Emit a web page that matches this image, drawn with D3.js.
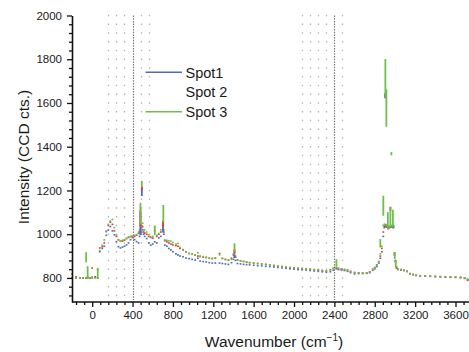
<!DOCTYPE html>
<html>
<head>
<meta charset="utf-8">
<script src="https://cdn.jsdelivr.net/npm/d3@7"></script>
<style>
  body { margin: 0; background: #fff; }
  svg { display: block; }
  text { font-family: "Liberation Sans", Arial, sans-serif; fill: #1a1a1a; }
</style>
</head>
<body>
<svg id="chart" width="469" height="352"></svg>
<script>
// Raman spectra of three spots (wavenumber in cm^-1, intensity in CCD counts)
const wavenumber = [
  -200,-160,-120,-90,-60,-45,-20,0,30,55,75,100,120,140,160,180,200,220,240,260,
  280,300,320,340,360,380,400,420,440,460,470,480,490,500,510,520,540,560,580,600,
  620,640,660,680,700,710,720,740,760,780,800,830,850,870,900,930,960,990,1020,1047,
  1070,1100,1130,1160,1190,1220,1262,1290,1320,1350,1380,1400,1410,1420,1440,1470,1500,1530,1560,1600,
  1640,1680,1720,1760,1800,1840,1880,1920,1960,2000,2040,2080,2120,2160,2200,2240,2280,2320,2360,2390,
  2420,2440,2470,2500,2530,2560,2600,2640,2680,2720,2750,2780,2800,2820,2840,2855,2870,2885,2895,2905,
  2915,2920,2925,2935,2945,2955,2965,2975,2985,2995,3005,3015,3030,3060,3090,3120,3150,3180,3210,3250,
  3300,3350,3400,3450,3500,3550,3600,3650,3690,3720,3750
];
const spot1 = [
  800,800,800,800,800,800,800,800,802,800,920,935,945,995,1019,1035,1015,997,966,943,
  937,941,945,951,960,975,990,975,966,960,990,1000,1010,1020,1000,990,980,960,950,955,
  965,960,983,990,1020,1000,950,945,935,928,920,910,905,900,897,891,888,885,882,890,
  877,875,873,870,868,868,868,866,864,862,870,885,895,880,866,864,862,861,860,858,
  856,855,853,852,850,848,846,844,842,840,838,837,836,834,832,830,828,826,828,835,
  842,838,836,834,830,824,818,820,820,821,824,835,842,852,868,890,920,990,1030,1035,
  1035,1033,1033,1030,1030,1032,1034,1033,1032,905,880,850,838,836,834,830,818,815,812,809,
  808,807,806,805,804,803,803,802,800,792,785
];
const spot2 = [
  818,805,800,800,800,805,800,845,805,840,937,943,960,1012,1040,1055,1045,1015,990,975,
  970,968,972,980,985,989,985,990,995,1004,1010,1020,1030,1035,1010,1005,1000,990,985,982,
  1015,990,1000,1010,1040,1010,970,965,960,955,951,948,945,935,928,920,912,910,905,900,
  898,895,893,890,888,890,912,890,885,882,890,905,915,895,882,878,875,872,870,868,
  866,864,862,860,856,853,852,849,847,846,844,843,842,840,838,836,834,832,838,844,
  845,842,840,838,836,830,825,823,822,823,828,840,848,860,875,900,935,1010,1035,1040,
  1040,1038,1036,1030,1032,1036,1038,1036,1035,914,875,845,840,838,835,830,820,816,812,810,
  809,808,807,806,805,804,803,802,798,790,783
];
const spot3 = [
  800,800,800,800,800,800,800,805,800,800,925,950,974,1015,1045,1060,1068,1030,995,974,
  970,972,975,981,987,990,990,995,998,1010,1020,1030,1040,1050,1020,1019,1010,997,988,990,
  1035,995,1003,1020,1050,1020,974,972,970,968,962,955,958,940,930,918,912,910,905,915,
  900,898,895,890,890,892,905,888,884,880,885,910,925,900,882,878,876,874,870,868,
  866,864,862,860,858,856,852,850,848,846,845,843,842,840,838,836,834,832,836,843,
  848,845,841,839,836,829,824,822,822,823,826,838,846,858,872,910,945,1040,1045,1045,
  1042,1040,1038,1035,1035,1038,1040,1040,1038,914,875,852,840,838,835,830,818,815,812,810,
  809,808,807,806,805,804,803,802,800,795,788
];

// narrow bands: [wavenumber, low, high] of the sharp lines in each spectrum
const spot1Bands = [
  [478, 1000, 1100], [492, 1178, 1212], [702, 1012, 1045], [1410, 895, 905],
  [2903, 1625, 1640], [2983, 1030, 1040]
];
const spot2Bands = [
  [478, 1040, 1110], [492, 1205, 1216], [703, 1035, 1060], [1410, 915, 928],
  [2905, 1630, 1642], [2930, 1025, 1032], [2955, 1110, 1122]
];
const spot3Bands = [
  [-60, 875, 914], [-45, 800, 850], [55, 800, 840], [478, 1050, 1140], [492, 1218, 1240],
  [620, 1000, 1035], [705, 1057, 1130], [1410, 925, 955], [2420, 855, 882],
  [2855, 943, 974], [2885, 1088, 1172], [2905, 1629, 1797], [2915, 1495, 1659],
  [2930, 1028, 1097], [2955, 1035, 1120], [2965, 1364, 1372], [2980, 1035, 1108],
  [2998, 891, 914], [3008, 852, 875]
];

const seriesNames = ["Spot1", "Spot 2", "Spot 3"];
const seriesValues = [spot1, spot2, spot3];
const seriesBands = [spot1Bands, spot2Bands, spot3Bands];
const seriesColors = ["#4a6cc4", "#e53935", "#6cc04a"];
const legendShowsLine = [true, false, true];

const xTickValues = [0, 400, 800, 1200, 1600, 2000, 2400, 2800, 3200, 3600];
const yTickValues = [800, 1000, 1200, 1400, 1600, 1800, 2000];
const guideLines = [160, 240, 320, 480, 560, 2080, 2160, 2240, 2320, 2480];
const markedLines = [400, 2400];

const svg = d3.select("#chart");

const x = d3.scaleLinear().domain([-200, 3600]).range([72, 455.5]);
const y = d3.scaleLinear().domain([690, 2000]).range([302, 15.5]);

const plotTop = y(2000), plotBottom = y(690);

// vertical guide lines
svg.append("g").selectAll("line").data(guideLines).join("line")
  .attr("x1", d => Math.round(x(d)) + 0.5).attr("x2", d => Math.round(x(d)) + 0.5)
  .attr("y1", plotTop - 0.75).attr("y2", plotBottom - 4)
  .attr("stroke", "#b4b4b4").attr("stroke-width", 1.3)
  .attr("stroke-dasharray", "1.5 7.25");
svg.append("g").selectAll("line").data(markedLines).join("line")
  .attr("x1", d => Math.round(x(d)) + 0.5).attr("x2", d => Math.round(x(d)) + 0.5)
  .attr("y1", plotTop).attr("y2", plotBottom - 2)
  .attr("stroke", "#7a7a7a").attr("stroke-width", 1.2)
  .attr("stroke-dasharray", "1.5 1.2");

// spectra: sampled points
seriesValues.forEach((vals, si) => {
  svg.append("g").attr("class", "series")
    .selectAll("rect").data(wavenumber.map((w, i) => [w, vals[i]])).join("rect")
    .attr("x", d => x(d[0]) - 0.9).attr("y", d => y(d[1]) - 0.8)
    .attr("width", 1.8).attr("height", 1.6)
    .attr("fill", seriesColors[si]);
});
// sharp lines drawn as solid vertical strokes
seriesBands.forEach((bands, si) => {
  svg.append("g").attr("class", "bands")
    .selectAll("line").data(bands).join("line")
    .attr("x1", d => x(d[0])).attr("x2", d => x(d[0]))
    .attr("y1", d => y(d[1]) + 0.8).attr("y2", d => y(d[2]) - 0.8)
    .attr("stroke", seriesColors[si]).attr("stroke-width", 1.8);
});

// axes
const fmt = d3.format("d");
const xAxis = svg.append("g").attr("transform", `translate(0,${plotBottom})`)
  .call(d3.axisBottom(x).tickValues(xTickValues).tickFormat(fmt)
    .tickSize(5).tickSizeOuter(0).tickPadding(4));
const xMinor = svg.append("g").attr("transform", `translate(0,${plotBottom})`)
  .call(d3.axisBottom(x).tickValues(d3.range(-160, 3800, 80).filter(v => v % 400 !== 0))
    .tickSize(3).tickSizeOuter(0).tickFormat(""));
const yAxis = svg.append("g").attr("transform", `translate(${x(-200)},0)`)
  .call(d3.axisLeft(y).tickValues(yTickValues).tickFormat(fmt)
    .tickSize(5).tickSizeOuter(0).tickPadding(5));
const yMinor = svg.append("g").attr("transform", `translate(${x(-200)},0)`)
  .call(d3.axisLeft(y).tickValues(d3.range(720, 2000, 40).filter(v => v % 200 !== 0))
    .tickSize(3).tickSizeOuter(0).tickFormat(""));

[xAxis, xMinor, yAxis, yMinor].forEach(a => {
  a.selectAll(".domain").attr("stroke", "#111").attr("stroke-width", 1.6);
  a.selectAll(".tick line").attr("stroke", "#111").attr("stroke-width", 1.3);
  a.selectAll("text").attr("font-size", 11.5).attr("font-family", null).attr("fill", "#1a1a1a");
});
xMinor.select(".domain").remove();
yMinor.select(".domain").remove();
xAxis.select(".domain").attr("d", `M${x(-200)},0H469`);

// axis titles
svg.append("text")
  .attr("transform", `translate(29,157) rotate(-90)`)
  .attr("text-anchor", "middle").attr("font-size", 15.5)
  .text("Intensity (CCD cts.)");
const xt = svg.append("text")
  .attr("x", 274).attr("y", 346.5)
  .attr("text-anchor", "middle").attr("font-size", 15.5);
xt.append("tspan").text("Wavenumber (cm");
xt.append("tspan").attr("dy", -6).attr("font-size", 10).text("−1");
xt.append("tspan").attr("dy", 6).text(")");

// legend
const legend = svg.append("g");
seriesNames.forEach((name, i) => {
  const cy = 72.3 + i * 19.7;
  if (legendShowsLine[i]) {
    legend.append("line")
      .attr("x1", 145.5).attr("x2", 182).attr("y1", cy).attr("y2", cy)
      .attr("stroke", seriesColors[i]).attr("stroke-width", 1.6);
  }
  legend.append("text")
    .attr("x", 185.5).attr("y", cy + 5.2)
    .attr("font-size", 14.5).text(name);
});
</script>
</body>
</html>
